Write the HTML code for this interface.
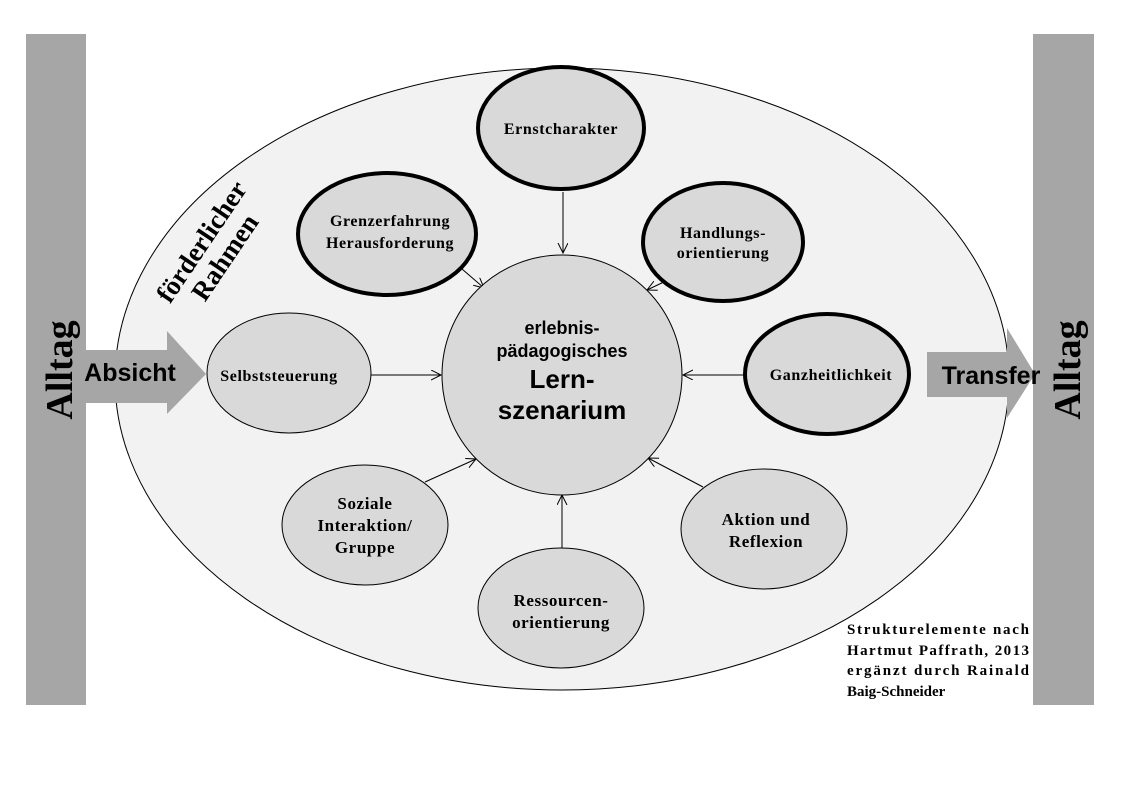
<!DOCTYPE html>
<html><head><meta charset="utf-8"><style>
html,body{margin:0;padding:0;background:#fff;}
svg{display:block;}
.s{font-family:"Liberation Serif",serif;font-weight:bold;}
.a{font-family:"Liberation Sans",sans-serif;font-weight:bold;}
</style></head><body>
<svg width="1122" height="793" viewBox="0 0 1122 793" xmlns="http://www.w3.org/2000/svg">
<defs><marker id="m" markerWidth="12" markerHeight="12" refX="10" refY="5" orient="auto" markerUnits="userSpaceOnUse"><path d="M0,0 L10,5 L0,10" fill="none" stroke="#000" stroke-width="1"/></marker></defs>
<rect x="0" y="0" width="1122" height="793" fill="#fff"/>
<ellipse cx="562" cy="379" rx="447" ry="311" fill="#f2f2f2" stroke="#000" stroke-width="1"/>
<rect x="26" y="34" width="60" height="671" fill="#a6a6a6"/>
<rect x="1033" y="34" width="61" height="671" fill="#a6a6a6"/>
<polygon points="86,350 167,350 167,331 206,374 167,414 167,403 86,403" fill="#a6a6a6"/>
<polygon points="927,352 1007,352 1007,328 1035,374 1007,418 1007,397 927,397" fill="#a6a6a6"/>
<text class="s" font-size="38" transform="translate(72,370) rotate(-90)" text-anchor="middle">Alltag</text>
<text class="s" font-size="38" transform="translate(1080,370) rotate(-90)" text-anchor="middle">Alltag</text>
<text class="a" font-size="25" x="130" y="381" text-anchor="middle">Absicht</text>
<text class="a" font-size="25" x="991" y="384" text-anchor="middle">Transfer</text>
<g transform="translate(214,250) rotate(-56)"><text class="s" font-size="27" x="0" y="-6" text-anchor="middle">förderlicher</text><text class="s" font-size="27" x="0" y="22" text-anchor="middle">Rahmen</text></g>
<g stroke="#000" stroke-width="1" marker-end="url(#m)">
<line x1="563" y1="192" x2="563" y2="253"/>
<line x1="462" y1="269" x2="484" y2="288"/>
<line x1="668" y1="280" x2="647" y2="290"/>
<line x1="371" y1="375" x2="441" y2="375"/>
<line x1="744" y1="375" x2="683" y2="375"/>
<line x1="425" y1="482" x2="476" y2="459"/>
<line x1="562" y1="548" x2="562" y2="495"/>
<line x1="703" y1="487" x2="648" y2="458"/>
</g>
<circle cx="562" cy="375" r="120" fill="#d9d9d9" stroke="#000" stroke-width="1"/>
<text class="a" font-size="18" x="562" y="334" text-anchor="middle">erlebnis-</text>
<text class="a" font-size="18" x="562" y="357" text-anchor="middle">pädagogisches</text>
<text class="a" font-size="26" x="562" y="388" text-anchor="middle">Lern-</text>
<text class="a" font-size="26" x="562" y="419" text-anchor="middle">szenarium</text>
<g fill="#d9d9d9" stroke="#000">
<ellipse cx="561" cy="128" rx="83" ry="61" stroke-width="4"/>
<ellipse cx="387" cy="234" rx="89" ry="61" stroke-width="4"/>
<ellipse cx="723" cy="242" rx="80" ry="59" stroke-width="4"/>
<ellipse cx="827" cy="374" rx="82" ry="60" stroke-width="4"/>
<ellipse cx="289" cy="373" rx="82" ry="60" stroke-width="1"/>
<ellipse cx="365" cy="525" rx="83" ry="60" stroke-width="1"/>
<ellipse cx="561" cy="608" rx="83" ry="60" stroke-width="1"/>
<ellipse cx="764" cy="529" rx="83" ry="60" stroke-width="1"/>
</g>
<g class="s" font-size="16" text-anchor="middle" letter-spacing="0.6">
<text x="561" y="134">Ernstcharakter</text>
<text x="390" y="226">Grenzerfahrung</text>
<text x="390" y="248">Herausforderung</text>
<text x="723" y="238">Handlungs-</text>
<text x="723" y="258">orientierung</text>
<text x="831" y="380">Ganzheitlichkeit</text>
<text x="279" y="381">Selbststeuerung</text>
<text x="365" y="509" font-size="17">Soziale</text>
<text x="365" y="531" font-size="17">Interaktion/</text>
<text x="365" y="553" font-size="17">Gruppe</text>
<text x="561" y="606" font-size="17">Ressourcen-</text>
<text x="561" y="628" font-size="17">orientierung</text>
<text x="766" y="525" font-size="17">Aktion und</text>
<text x="766" y="547" font-size="17">Reflexion</text>
</g>
<g class="s" font-size="15">
<text x="847" y="634" textLength="182" lengthAdjust="spacing">Strukturelemente nach</text>
<text x="847" y="655" textLength="182" lengthAdjust="spacing">Hartmut Paffrath, 2013</text>
<text x="847" y="675" textLength="182" lengthAdjust="spacing">ergänzt durch Rainald</text>
<text x="847" y="696">Baig-Schneider</text>
</g>
</svg>
</body></html>
